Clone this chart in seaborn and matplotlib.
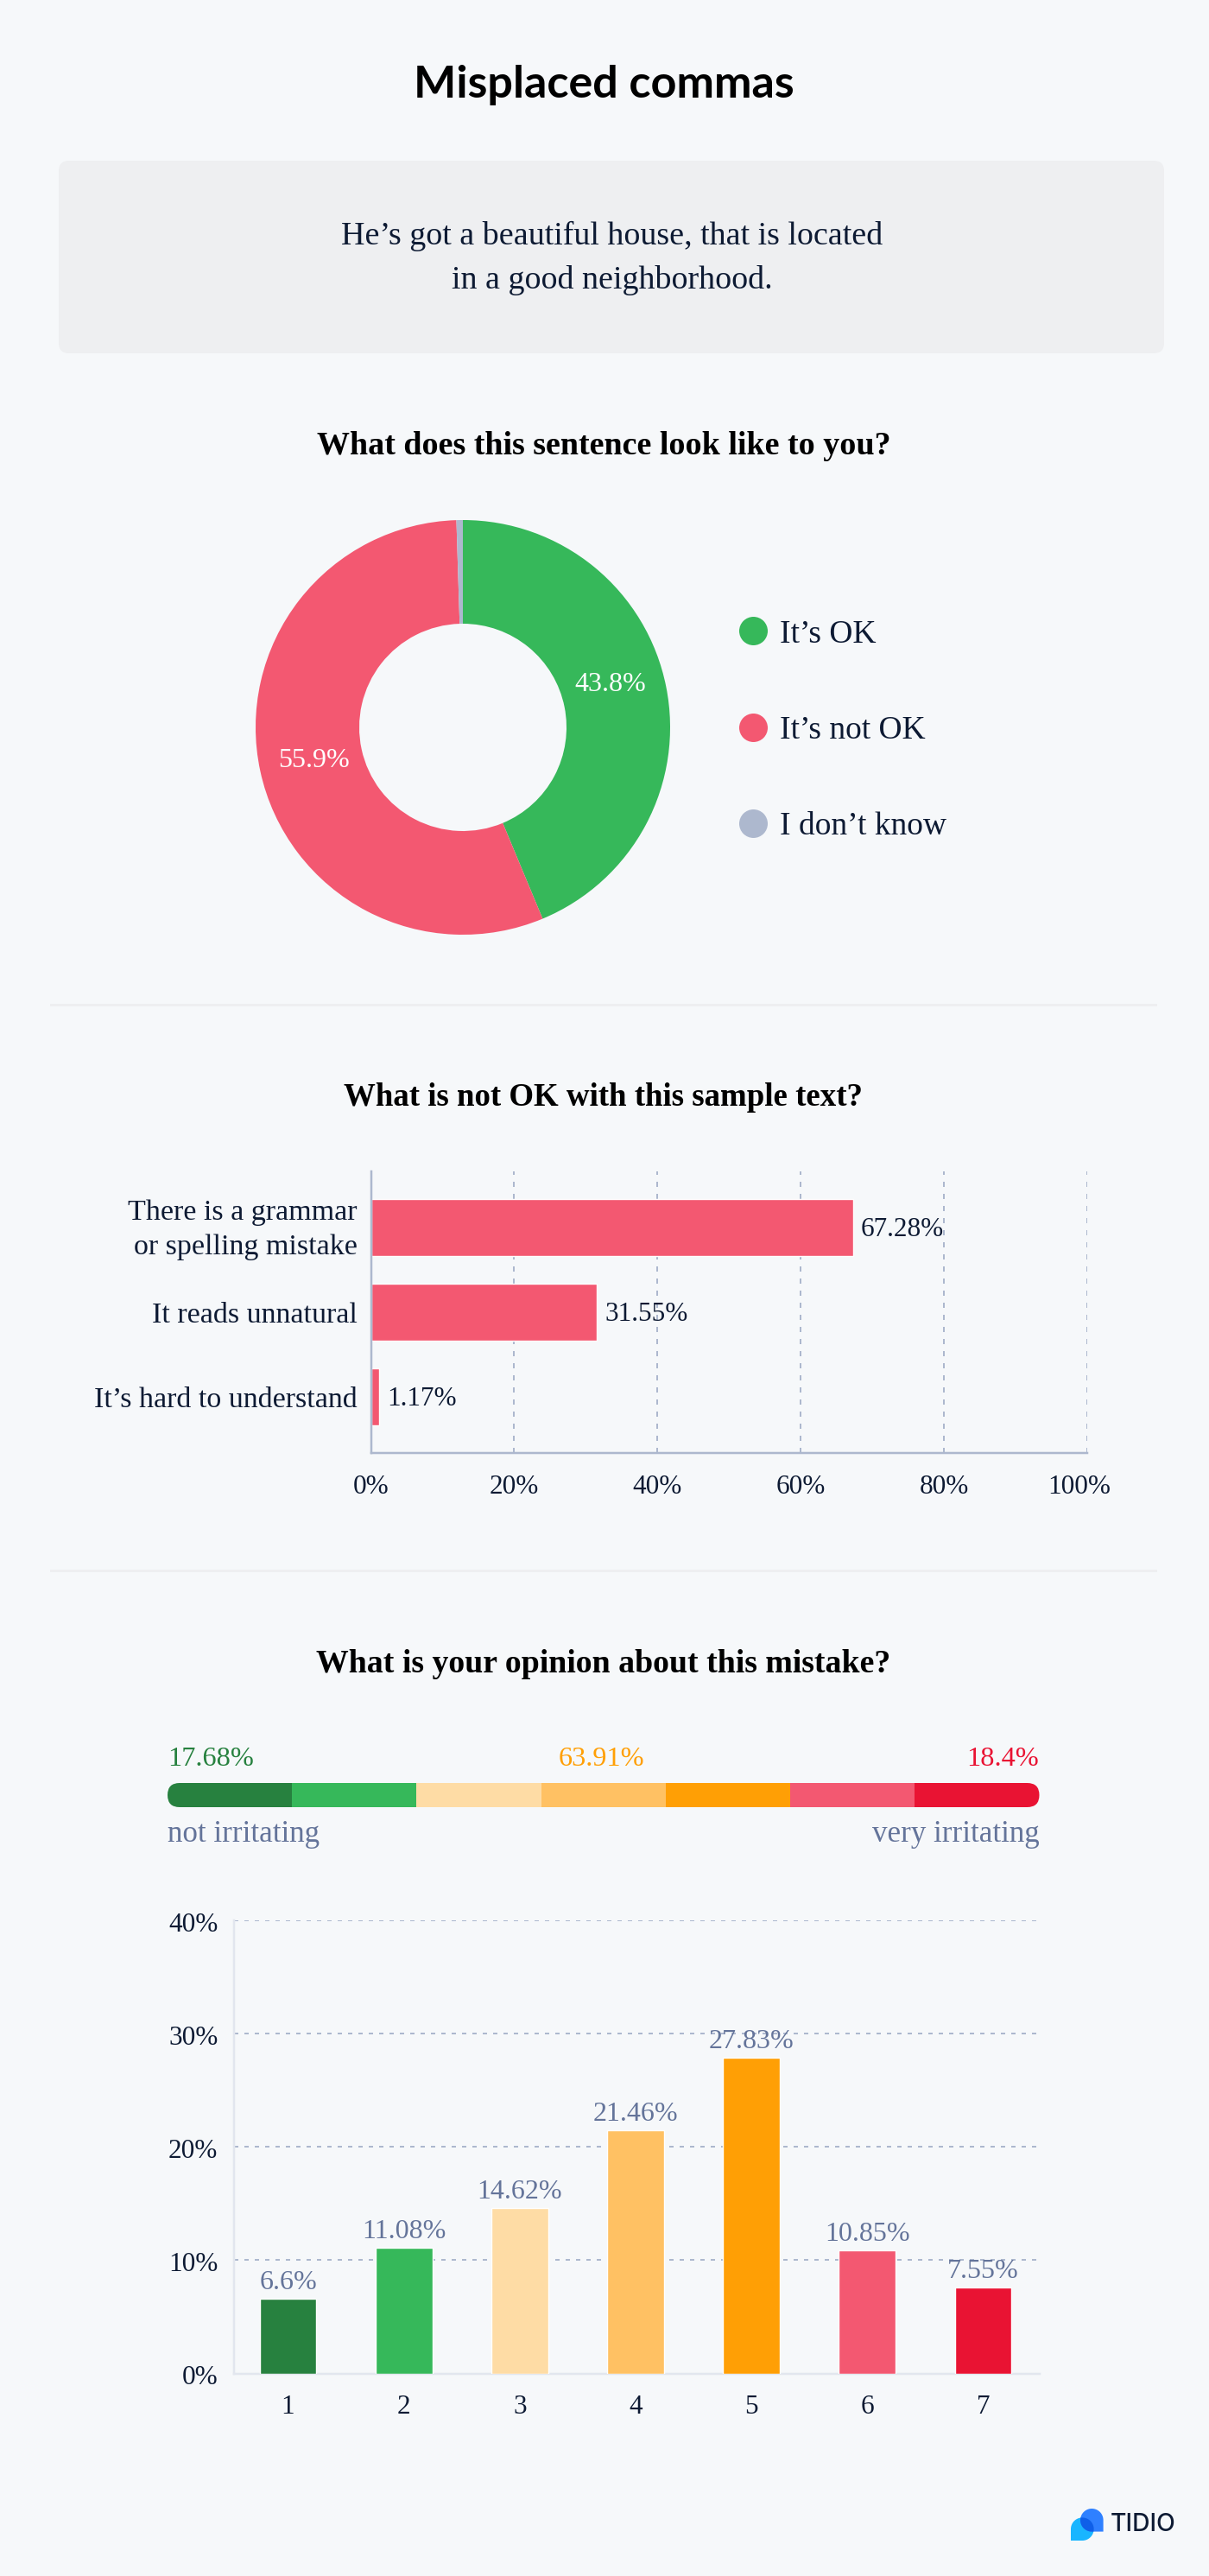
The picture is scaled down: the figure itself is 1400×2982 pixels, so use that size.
import numpy as np
import pandas as pd
import matplotlib
matplotlib.use("Agg")
import matplotlib.pyplot as plt
from matplotlib.lines import Line2D
from matplotlib.patches import FancyBboxPatch, PathPatch, Rectangle
from matplotlib.path import Path
from matplotlib.transforms import ScaledTranslation
import seaborn as sns

# ---------- data ----------
title = "Misplaced commas"
sentence = "He’s got a beautiful house, that is located\nin a good neighborhood."
q1 = "What does this sentence look like to you?"
q2 = "What is not OK with this sample text?"
q3 = "What is your opinion about this mistake?"

donut_labels = ["It’s OK", "It’s not OK", "I don’t know"]
donut_values = [43.8, 55.9, 0.5]
donut_texts = ["43.8%", "55.9%"]

issue_labels = ["There is a grammar\nor spelling mistake", "It reads unnatural", "It’s hard to understand"]
issue_values = [67.28, 31.55, 1.17]
issue_ticks = [0, 20, 40, 60, 80, 100]

scale_labels = ["1", "2", "3", "4", "5", "6", "7"]
scale_values = [6.6, 11.08, 14.62, 21.46, 27.83, 10.85, 7.55]
scale_ticks = [0, 10, 20, 30, 40]
scale_steps = [1, 1, 1, 1, 1, 1, 1]
group_texts = ["17.68%", "63.91%", "18.4%"]

# ---------- style ----------
W, H = 1400, 2982
BG = "#F6F8FA"
NAVY = "#0D1A33"
SLATE = "#64749A"
LINE = "#ADB8CE"
PALE = "#E2E6EE"
GREEN_D, GREEN, CREAM, AMBER, ORANGE, PINK, RED = (
    "#27813F", "#36B85A", "#FEDCA5", "#FFC163", "#FF9F05", "#F35871", "#E91333")
scale_colors = [GREEN_D, GREEN, CREAM, AMBER, ORANGE, PINK, RED]
donut_colors = [GREEN, PINK, LINE]
SERIF = "Liberation Serif"

sns.set_theme(style="white", rc={"figure.facecolor": BG, "axes.facecolor": "none",
                                 "lines.scale_dashes": False})
plt.rcParams["font.family"] = [SERIF, "DejaVu Sans"]

fig = plt.figure(figsize=(W / 100, H / 100), dpi=100, facecolor=BG)
PX = 0.72  # points per pixel


def px_axes(l, t, r, b, **kw):
    return fig.add_axes([l / W, 1 - b / H, (r - l) / W, (b - t) / H], **kw)


# ---------- overlay in pixel space ----------
ov = px_axes(0, 0, W, H, zorder=10)
ov.set_xlim(0, W)
ov.set_ylim(H, 0)
ov.axis("off")

ov.text(699, 98, title, ha="center", va="center", family="Lato", weight="bold",
        fontsize=37.5, color="black")
ov.add_patch(FancyBboxPatch((80, 198), 1256, 199, boxstyle="round,pad=12,rounding_size=12",
                            fc="#EEEFF1", ec="none", zorder=0))
ov.text(709, 299, sentence, ha="center", va="center", fontsize=27.4, color=NAVY, linespacing=1.6)
for txt, y, fs in [(q1, 517, 27.4), (q2, 1270, 26.6), (q3, 1926, 27.2)]:
    ov.text(699, y, txt, ha="center", va="center", fontsize=fs, weight="bold", color="black")
for y in (1163, 1818):
    ov.add_patch(Rectangle((58, y - 1.5), 1282, 3, fc="#EEEFF1", ec="none"))

# ---------- donut ----------
ax1 = px_axes(296, 602, 776, 1082)
ax1.pie(donut_values, colors=donut_colors, startangle=90, counterclock=False, radius=1,
        wedgeprops=dict(width=0.5, linewidth=0))
ax1.set_xlim(-1, 1)
ax1.set_ylim(-1, 1)
ax1.set_aspect("equal")
for txt, (x, y) in zip(donut_texts, [(707, 793), (363, 881)]):
    ov.text(x, y, txt, ha="center", va="center", fontsize=23, color="white")
handles = [Line2D([], [], linestyle="none", marker="o", markersize=33 * PX, markerfacecolor=c,
                  markeredgewidth=0) for c in donut_colors]
ax1.legend(handles, donut_labels, loc="upper left", frameon=False, fontsize=27,
           labelcolor=NAVY, handlelength=1, handletextpad=0.34, labelspacing=2.05, borderpad=0,
           borderaxespad=0, bbox_to_anchor=(853 / W, 1 - 717 / H), bbox_transform=fig.transFigure)

# ---------- horizontal bars ----------
ax2 = px_axes(429.5, 1356, 1259, 1682)
issues = pd.DataFrame({"issue": issue_labels, "share": issue_values})
sns.barplot(data=issues, y="issue", x="share", orient="h", color=PINK, width=0.673,
            saturation=1, ax=ax2, zorder=3)
ax2.set_xlim(0, 100)
ax2.set_ylim(2.663, -0.663)
ax2.set_xlabel("")
ax2.set_ylabel("")
ax2.set_xticks(issue_ticks, [f"{t}%" for t in issue_ticks])
ax2.grid(axis="x", color=LINE, linewidth=2 * PX, linestyle=(0, (6 * PX, 8 * PX)), zorder=0)
ax2.set_axisbelow(True)
sns.despine(ax=ax2, top=True, right=True)
for s in ("left", "bottom"):
    ax2.spines[s].set_color(LINE)
    ax2.spines[s].set_linewidth(2.5 * PX)
    ax2.spines[s].set_zorder(4)
ax2.tick_params(axis="both", length=0, labelsize=22.5, labelcolor=NAVY)
ax2.tick_params(axis="y", pad=16 * PX, labelsize=24.5)
ax2.tick_params(axis="x", pad=25 * PX)
for lab in ax2.get_yticklabels():
    lab.set_linespacing(1.38)
lab = ax2.get_yticklabels()[0]
lab.set_transform(lab.get_transform() + ScaledTranslation(0, 5 / 100, fig.dpi_scale_trans))
lab = ax2.get_xticklabels()[-1]
lab.set_transform(lab.get_transform() + ScaledTranslation(-9 / 100, 0, fig.dpi_scale_trans))
for t in ax2.bar_label(ax2.containers[0], labels=[f"{v:g}%" for v in issue_values], padding=8 * PX,
                       fontsize=22.5, color=NAVY, zorder=5):
    t.xyann = (9 * PX, -2)

# ---------- colour key ----------
ax3 = px_axes(194, 2064, 1203.5, 2092)
ax3.axis("off")
bars = ax3.barh(0.5, scale_steps, left=np.cumsum([0] + scale_steps[:-1]), height=1,
                color=scale_colors, linewidth=0)
ax3.set_xlim(0, sum(scale_steps))
ax3.set_ylim(0, 1)
clip = FancyBboxPatch((208, 2078), 981.5, 0, boxstyle="round,pad=14,rounding_size=14",
                      transform=ov.transData)
for b in bars:
    b.set_clip_path(clip)
for txt, x, ha, c in zip(group_texts, (194, 696.5, 1203), ("left", "center", "right"),
                         (GREEN_D, ORANGE, RED)):
    ov.text(x, 2036, txt, ha=ha, va="center", fontsize=23.3, color=c)
ov.text(194, 2124, "not irritating", ha="left", va="center", fontsize=25.2, color=SLATE)
ov.text(1204, 2124, "very irritating", ha="right", va="center", fontsize=25.2, color=SLATE)

# ---------- vertical bars ----------
ax4 = px_axes(270.5, 2222.5, 1203.5, 2747.5)
scale = pd.DataFrame({"level": scale_labels, "share": scale_values})
sns.barplot(data=scale, x="level", y="share", hue="level", palette=scale_colors, legend=False,
            width=0.49, saturation=1, ax=ax4, zorder=3)
ax4.set_xlim(-0.47, 6.485)
ax4.set_ylim(0, 40)
ax4.set_xlabel("")
ax4.set_ylabel("")
ax4.set_yticks(scale_ticks, [f"{t}%" for t in scale_ticks])
ax4.grid(axis="y", color=LINE, linewidth=2 * PX, linestyle=(0, (5 * PX, 7 * PX)), zorder=0)
ax4.set_axisbelow(True)
sns.despine(ax=ax4, top=True, right=True)
for s in ("left", "bottom"):
    ax4.spines[s].set_color(PALE)
    ax4.spines[s].set_linewidth(2.5 * PX)
ax4.tick_params(axis="both", length=0, labelsize=22.5, labelcolor=NAVY)
ax4.tick_params(axis="y", pad=18 * PX)
ax4.tick_params(axis="x", pad=25 * PX)
for lab in ax4.get_yticklabels():
    lab.set_transform(lab.get_transform() + ScaledTranslation(0, -2 / 100, fig.dpi_scale_trans))
real = [c for c in ax4.containers if len(c) > 0]
for c, v in zip(real, scale_values):
    ax4.bar_label(c, labels=[f"{v:g}%"] * len(c), padding=4 * PX, fontsize=23, color=SLATE, zorder=5)


# ---------- logo ----------
def drop(cx, cy, r, start, corner):
    t = np.radians(np.linspace(start, start + 270, 60))
    pts = np.column_stack([cx + r * np.cos(t), cy - r * np.sin(t)])
    pts = np.vstack([pts, corner, pts[0]])
    return Path(pts, closed=True)


cyan_path = drop(1253.3, 2927.7, 13.3, -90, (1240, 2941))
blue_path = drop(1264.3, 2917.3, 13.3, 0, (1277.6, 2930.6))
ov.add_patch(PathPatch(cyan_path, fc="#19B5FF", ec="none"))
ov.add_patch(PathPatch(blue_path, fc="#2F80FF", ec="none"))
overlap = PathPatch(blue_path, fc="#0F5FE8", ec="none")
ov.add_patch(overlap)
overlap.set_clip_path(PathPatch(cyan_path, transform=ov.transData))
ov.text(1323.5, 2923, "TIDIO", ha="center", va="center", family="Inter", weight="medium",
        fontsize=20.4, color=NAVY)

fig.savefig("out.png", dpi=100, facecolor=BG)
